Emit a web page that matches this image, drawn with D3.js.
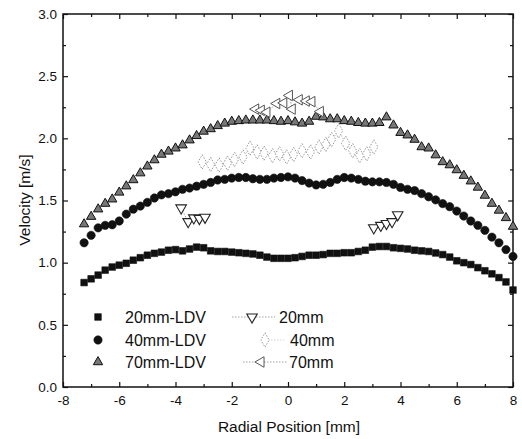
<!DOCTYPE html>
<html><head><meta charset="utf-8">
<script src="https://cdn.jsdelivr.net/npm/d3@7"></script>
<style>body{margin:0;background:#fff}svg{display:block}text{font-family:"Liberation Sans",Arial,sans-serif;fill:#111}</style>
</head><body><svg id="c" width="522" height="439"></svg>
<script>
// LDV radial positions (mm)
const ldvX = [-7.25,-7,-6.75,-6.5,-6.25,-6,-5.75,-5.5,-5.25,-5,-4.75,-4.5,-4.25,-4,-3.75,-3.5,-3.25,-3,-2.75,-2.5,-2.25,-2,-1.75,-1.5,-1.25,-1,-0.75,-0.5,-0.25,0,0.25,0.5,0.75,1,1.25,1.5,1.75,2,2.25,2.5,2.75,3,3.25,3.5,3.75,4,4.25,4.5,4.75,5,5.25,5.5,5.75,6,6.25,6.5,6.75,7,7.25,7.5,7.75,8];
const ldv20 = [0.84,0.87,0.90,0.94,0.965,0.98,0.995,1.02,1.04,1.06,1.075,1.085,1.10,1.105,1.095,1.11,1.125,1.12,1.095,1.09,1.09,1.085,1.08,1.075,1.07,1.06,1.045,1.035,1.035,1.035,1.04,1.05,1.06,1.06,1.065,1.075,1.075,1.08,1.08,1.09,1.10,1.125,1.13,1.13,1.12,1.115,1.11,1.10,1.095,1.09,1.078,1.065,1.045,1.015,1.0,0.985,0.96,0.935,0.91,0.88,0.845,0.78];
const ldv40 = [1.16,1.22,1.28,1.30,1.305,1.335,1.39,1.43,1.455,1.485,1.52,1.545,1.555,1.57,1.59,1.60,1.615,1.63,1.645,1.665,1.67,1.68,1.685,1.685,1.675,1.67,1.67,1.68,1.685,1.69,1.68,1.66,1.64,1.625,1.63,1.645,1.67,1.685,1.68,1.67,1.655,1.65,1.65,1.645,1.63,1.605,1.59,1.58,1.555,1.53,1.505,1.475,1.45,1.415,1.375,1.335,1.30,1.26,1.205,1.16,1.105,1.05];
const ldv70 = [1.31,1.37,1.43,1.475,1.51,1.565,1.615,1.665,1.72,1.775,1.825,1.87,1.895,1.92,1.945,1.985,2.02,2.055,2.075,2.10,2.12,2.135,2.14,2.145,2.145,2.145,2.145,2.14,2.135,2.14,2.13,2.12,2.135,2.175,2.17,2.155,2.155,2.14,2.135,2.125,2.12,2.12,2.125,2.17,2.105,2.045,2.025,1.99,1.93,1.92,1.865,1.81,1.785,1.745,1.70,1.655,1.605,1.54,1.475,1.42,1.36,1.29];
// Other measurement series
const m20X = [[-3.8,-3.55,-3.35,-3.15,-2.95],[3.05,3.3,3.5,3.7,3.9]];
const m20V = [[1.44,1.33,1.36,1.355,1.365],[1.28,1.30,1.315,1.33,1.385]];
const m40X = [-3.05,-2.75,-2.45,-2.15,-1.9,-1.6,-1.35,-1.1,-0.85,-0.55,-0.3,-0.05,0.2,0.5,0.8,1.1,1.35,1.55,1.8,2.05,2.3,2.55,2.8,3.05];
const m40V = [1.81,1.79,1.785,1.80,1.83,1.85,1.92,1.89,1.88,1.86,1.875,1.85,1.87,1.90,1.89,1.93,1.95,1.99,2.06,1.96,1.90,1.86,1.875,1.93];
const m70X = [-1.15,-0.95,-0.75,-0.4,-0.15,0.05,0.15,0.4,0.65,0.85,1.15];
const m70V = [2.235,2.225,2.21,2.28,2.285,2.345,2.235,2.31,2.30,2.295,2.215];
const xMajor = [-8,-6,-4,-2,0,2,4,6,8];
const xMinor = [-7,-5,-3,-1,1,3,5,7];
const yMajor = [0,0.5,1,1.5,2,2.5,3];
const yMinor = [0.25,0.75,1.25,1.75,2.25,2.75];
const legendLDV = ["20mm-LDV","40mm-LDV","70mm-LDV"];
const legendM = ["20mm","40mm","70mm"];

const svg = d3.select("#c");
const L=63,R=513,T=14,B=387;
const x = d3.scaleLinear().domain([-8,8]).range([L,R]);
const y = d3.scaleLinear().domain([0,3]).range([B,T]);

// axes
const fmtX = d=>String(d), fmtY = d3.format(".1f");
function ax(gen, tr, vals, size, lab, fmt){
  const g = svg.append("g").attr("transform",tr)
    .call(gen.tickValues(vals).tickSize(size).tickPadding(lab?6:0).tickFormat(lab?fmt:()=>""));
  g.select(".domain").remove();
  g.selectAll("line").attr("stroke","#111").attr("stroke-width",1.2);
  g.selectAll("text").attr("font-size",13.5).style("fill","#111");
  return g;
}
ax(d3.axisBottom(x), `translate(0,${B})`, xMajor, -5, true, fmtX).selectAll("text").attr("dy","0.9em");
ax(d3.axisBottom(x), `translate(0,${B})`, xMinor, -3, false);
ax(d3.axisTop(x), `translate(0,${T})`, xMajor, -5, false);
ax(d3.axisTop(x), `translate(0,${T})`, xMinor, -3, false);
ax(d3.axisLeft(y), `translate(${L},0)`, yMajor, -5, true, fmtY);
ax(d3.axisLeft(y), `translate(${L},0)`, yMinor, -3, false);
ax(d3.axisRight(y), `translate(${R},0)`, yMajor, -5, false);
ax(d3.axisRight(y), `translate(${R},0)`, yMinor, -3, false);
svg.append("rect").attr("x",L).attr("y",T).attr("width",R-L).attr("height",B-T)
  .attr("fill","none").attr("stroke","#111").attr("stroke-width",1.5);

svg.append("text").attr("x",289).attr("y",432).attr("text-anchor","middle").attr("font-size",15.5).text("Radial Position [mm]");
svg.append("text").attr("transform","translate(30,200) rotate(-90)").attr("text-anchor","middle").attr("font-size",15.5).text("Velocity [m/s]");

const sym = (t,s)=>d3.symbol().type(t).size(s)();
const styles = {
  sq:{p:sym(d3.symbolSquare,44),fill:"#111",stroke:"#111",sw:0.6,rot:0},
  ci:{p:sym(d3.symbolCircle,54),fill:"#111",stroke:"#111",sw:0.6,rot:0},
  tr:{p:sym(d3.symbolTriangle,38),fill:"#777",stroke:"#111",sw:1,rot:0},
  dn:{p:sym(d3.symbolTriangle,48),fill:"#fff",stroke:"#222",sw:1.1,rot:180},
  di:{p:sym(d3.symbolDiamond,60),fill:"#fff",stroke:"#999",sw:1,rot:0,dash:"1.5,1.5"},
  le:{p:sym(d3.symbolTriangle,48),fill:"#fff",stroke:"#555",sw:1,rot:-90}
};
function marks(xs, vs, st){
  const s = styles[st];
  svg.append("g").selectAll("path").data(xs.map((d,i)=>[d,vs[i]])).join("path")
    .attr("d",s.p).attr("transform",d=>`translate(${x(d[0])},${y(d[1])}) rotate(${s.rot})`)
    .attr("fill",s.fill).attr("stroke",s.stroke).attr("stroke-width",s.sw)
    .attr("stroke-dasharray",s.dash||null);
}
function dline(xs, vs, col){
  svg.append("path").datum(xs.map((d,i)=>[d,vs[i]]))
    .attr("d",d3.line().x(d=>x(d[0])).y(d=>y(d[1])))
    .attr("fill","none").attr("stroke",col).attr("stroke-width",0.8).attr("stroke-dasharray","1.5,1.5");
}
dline(m40X,m40V,"#aaa");
dline(m70X,m70V,"#888");
m20X.forEach((xs,i)=>dline(xs,m20V[i],"#888"));
marks(ldvX,ldv20,"sq");
marks(ldvX,ldv40,"ci");
marks(ldvX,ldv70,"tr");
m20X.forEach((xs,i)=>marks(xs,m20V[i],"dn"));
marks(m40X,m40V,"di");
marks(m70X,m70V,"le");

// legend
const rows=[317,340,362];
const lst=["sq","ci","tr"], mst=["dn","di","le"];
rows.forEach((ry,i)=>{
  const s=styles[lst[i]];
  svg.append("path").attr("d",s.p).attr("transform",`translate(98,${ry})`).attr("fill",s.fill).attr("stroke",s.stroke).attr("stroke-width",s.sw);
  svg.append("text").attr("x",125).attr("y",ry+5.5).attr("font-size",16).text(legendLDV[i]);
});
const legM=[{x1:232,x2:275,mx:252,tx:279},{x1:262,x2:284,mx:265,tx:290},{x1:243,x2:287,mx:261,tx:289}];
rows.forEach((ry,i)=>{
  const s=styles[mst[i]], c=legM[i];
  svg.append("line").attr("x1",c.x1).attr("x2",c.x2).attr("y1",ry).attr("y2",ry)
    .attr("stroke",i==1?"#ccc":"#888").attr("stroke-width",0.8).attr("stroke-dasharray","1.5,1.5");
  svg.append("path").attr("d",s.p).attr("transform",`translate(${c.mx},${ry}) rotate(${s.rot})`)
    .attr("fill",s.fill).attr("stroke",s.stroke).attr("stroke-width",s.sw).attr("stroke-dasharray",s.dash||null);
  svg.append("text").attr("x",c.tx).attr("y",ry+5.5).attr("font-size",16).text(legendM[i]);
});
</script></body></html>
